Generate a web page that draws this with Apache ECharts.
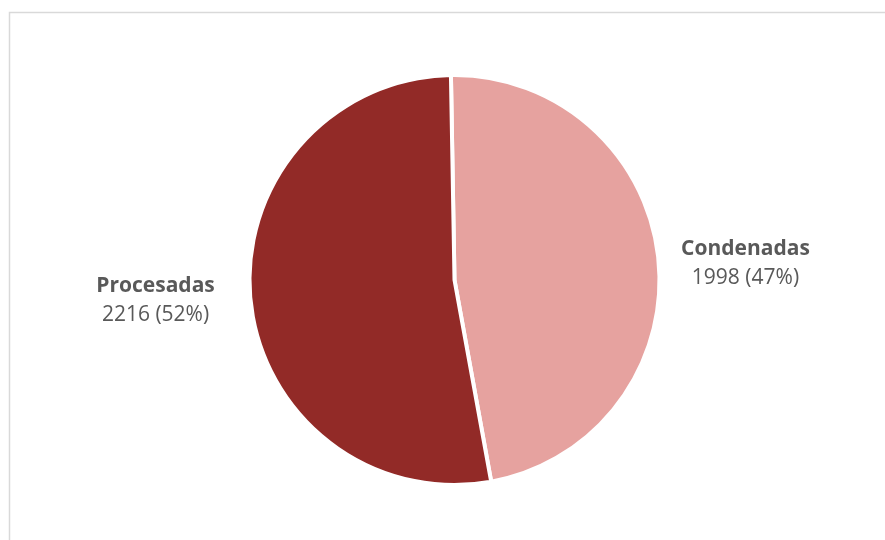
<!DOCTYPE html>
<html>
<head>
<meta charset="utf-8">
<script src="https://cdn.jsdelivr.net/npm/echarts@6/dist/echarts.min.js"></script>
<style>
  html, body { margin: 0; padding: 0; background: #ffffff; }
  #chart { width: 885px; height: 540px; }
</style>
</head>
<body>
<div id="chart"></div>
<script>
// Case counts by status
const categories = ['Condenadas', 'Procesadas'];
const values = [1998, 2216];
const colors = ['#E6A29F', '#922A27'];

const total = values.reduce((a, b) => a + b, 0);

// per-slice label nudges
const labelLines = [{ length2: 6 }, { length2: 14 }];
const labelPads = [[8, 0, 0, 0], [0, 0, 0, 0]];

const chart = echarts.init(document.getElementById('chart'), null, { renderer: 'canvas' });

chart.setOption({
  animation: false,
  backgroundColor: '#ffffff',
  graphic: [{
    type: 'rect',
    silent: true,
    shape: { x: 9.5, y: 12.5, width: 1000, height: 1000 },
    style: { fill: 'none', stroke: '#d9d9d9', lineWidth: 1.5 }
  }],
  series: [{
    type: 'pie',
    center: [454.5, 280],
    radius: 205,
    startAngle: 91,
    clockwise: true,
    avoidLabelOverlap: false,
    itemStyle: { borderColor: '#ffffff', borderWidth: 4 },
    label: {
      show: true,
      position: 'outside',
      formatter: function (p) {
        const pct = Math.floor(p.value / total * 100);
        return '{n|' + p.name + '}\n{v|' + p.value + ' (' + pct + '%)}';
      },
      rich: {
        n: {
          fontFamily: 'Open Sans', fontSize: 21, fontWeight: 'bold',
          color: '#595959', width: 140, align: 'center', lineHeight: 29
        },
        v: {
          fontFamily: 'Open Sans', fontSize: 21, fontWeight: 'normal',
          color: '#595959', width: 140, align: 'center', lineHeight: 29
        }
      }
    },
    labelLine: { show: false, length: 6, length2: 14 },
    emphasis: { disabled: true },
    data: categories.map((name, i) => ({
      name: name,
      value: values[i],
      itemStyle: { color: colors[i] },
      label: { padding: labelPads[i] },
      labelLine: labelLines[i]
    }))
  }]
});
</script>
</body>
</html>
